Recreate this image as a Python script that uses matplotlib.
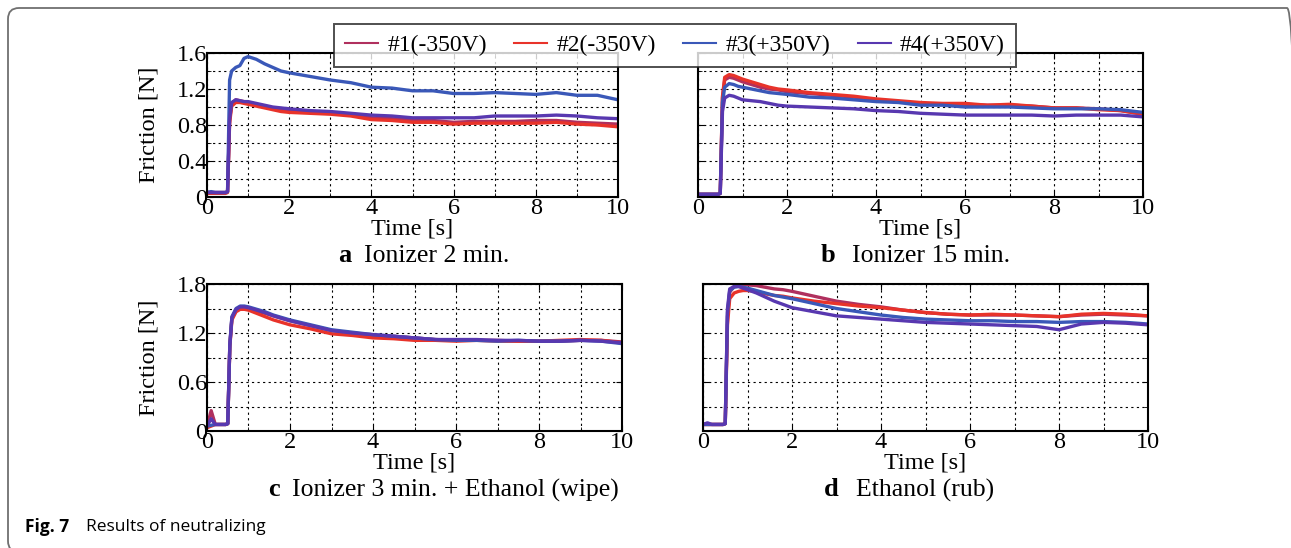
import matplotlib
matplotlib.use("Agg")
import matplotlib.pyplot as plt
from matplotlib.patches import FancyBboxPatch
from matplotlib.transforms import IdentityTransform
from matplotlib.ticker import MultipleLocator

W, H = 1291, 548

t = [0, 0.1, 0.2, 0.3, 0.45, 0.5, 0.55, 0.6, 0.7, 0.8, 0.9, 1.0, 1.2, 1.4, 1.6, 1.8,
     2.0, 2.5, 3.0, 3.5, 4.0, 4.5, 5.0, 5.5, 6.0, 6.5, 7.0, 7.5, 8.0, 8.5, 9.0, 9.5, 10.0]

labels = ["#1(-350V)", "#2(-350V)", "#3(+350V)", "#4(+350V)"]
colors = ["#b0305e", "#e8332a", "#3a58b8", "#5838b0"]

# a  Ionizer 2 min.
a1 = [0.05, 0.05, 0.05, 0.05, 0.05, 0.06, 0.85, 1.04, 1.08, 1.07, 1.06, 1.05, 1.03, 1.01, 0.99, 0.97,
      0.96, 0.94, 0.93, 0.91, 0.88, 0.87, 0.86, 0.85, 0.83, 0.84, 0.84, 0.84, 0.85, 0.85, 0.83, 0.82, 0.81]
a2 = [0.04, 0.04, 0.04, 0.04, 0.04, 0.05, 0.82, 1.01, 1.05, 1.05, 1.04, 1.03, 1.01, 0.99, 0.97, 0.95,
      0.94, 0.93, 0.92, 0.90, 0.86, 0.85, 0.83, 0.83, 0.81, 0.82, 0.82, 0.82, 0.82, 0.83, 0.81, 0.80, 0.78]
a3 = [0.05, 0.06, 0.05, 0.05, 0.05, 0.06, 1.30, 1.40, 1.44, 1.46, 1.54, 1.56, 1.53, 1.48, 1.44, 1.40,
      1.38, 1.34, 1.30, 1.27, 1.22, 1.21, 1.18, 1.18, 1.15, 1.15, 1.16, 1.15, 1.14, 1.16, 1.13, 1.13, 1.08]
a4 = [0.05, 0.05, 0.05, 0.05, 0.05, 0.06, 0.86, 1.05, 1.08, 1.07, 1.06, 1.06, 1.04, 1.02, 1.00, 0.99,
      0.98, 0.96, 0.95, 0.93, 0.91, 0.90, 0.88, 0.88, 0.88, 0.88, 0.90, 0.90, 0.90, 0.91, 0.90, 0.88, 0.87]

# b  Ionizer 15 min.
b1 = [0.03, 0.03, 0.03, 0.03, 0.03, 0.04, 1.10, 1.30, 1.33, 1.32, 1.30, 1.28, 1.25, 1.22, 1.20, 1.19,
      1.17, 1.15, 1.13, 1.11, 1.08, 1.06, 1.04, 1.03, 1.03, 1.02, 1.02, 1.01, 0.99, 0.99, 0.98, 0.96, 0.92]
b2 = [0.03, 0.03, 0.03, 0.03, 0.03, 0.04, 1.12, 1.33, 1.36, 1.35, 1.33, 1.31, 1.28, 1.25, 1.22, 1.20,
      1.19, 1.16, 1.14, 1.12, 1.09, 1.07, 1.05, 1.04, 1.04, 1.02, 1.03, 1.01, 0.99, 0.99, 0.97, 0.96, 0.92]
b3 = [0.03, 0.03, 0.03, 0.03, 0.03, 0.04, 1.05, 1.22, 1.26, 1.25, 1.23, 1.22, 1.20, 1.18, 1.16, 1.15,
      1.14, 1.11, 1.10, 1.08, 1.06, 1.05, 1.02, 1.02, 1.00, 1.00, 1.00, 0.99, 0.98, 0.98, 0.98, 0.97, 0.94]
b4 = [0.03, 0.03, 0.03, 0.03, 0.03, 0.04, 0.95, 1.10, 1.13, 1.12, 1.10, 1.08, 1.07, 1.06, 1.04, 1.02,
      1.01, 1.00, 0.99, 0.98, 0.96, 0.95, 0.93, 0.92, 0.91, 0.91, 0.91, 0.91, 0.90, 0.91, 0.91, 0.91, 0.89]

# c  Ionizer 3 min. + Ethanol (wipe)
c1 = [0.05, 0.25, 0.08, 0.08, 0.08, 0.09, 1.05, 1.38, 1.48, 1.51, 1.51, 1.50, 1.47, 1.44, 1.41, 1.38,
      1.35, 1.29, 1.23, 1.20, 1.17, 1.16, 1.14, 1.12, 1.11, 1.11, 1.11, 1.10, 1.10, 1.10, 1.11, 1.11, 1.09]
c2 = [0.04, 0.06, 0.08, 0.08, 0.08, 0.09, 1.03, 1.36, 1.46, 1.49, 1.49, 1.48, 1.44, 1.40, 1.36, 1.33,
      1.30, 1.25, 1.19, 1.17, 1.14, 1.13, 1.11, 1.11, 1.10, 1.11, 1.10, 1.10, 1.10, 1.11, 1.12, 1.11, 1.08]
c3 = [0.06, 0.07, 0.08, 0.08, 0.08, 0.09, 1.06, 1.40, 1.50, 1.53, 1.53, 1.52, 1.49, 1.46, 1.42, 1.39,
      1.36, 1.30, 1.24, 1.21, 1.18, 1.16, 1.14, 1.12, 1.11, 1.11, 1.10, 1.11, 1.10, 1.10, 1.11, 1.10, 1.07]
c4 = [0.06, 0.15, 0.08, 0.08, 0.08, 0.09, 1.05, 1.39, 1.49, 1.52, 1.52, 1.51, 1.48, 1.45, 1.41, 1.38,
      1.35, 1.29, 1.23, 1.20, 1.18, 1.16, 1.14, 1.12, 1.12, 1.12, 1.11, 1.11, 1.10, 1.10, 1.11, 1.10, 1.08]

# d  Ethanol (rub)
d1 = [0.08, 0.08, 0.08, 0.08, 0.08, 0.09, 1.40, 1.70, 1.77, 1.79, 1.79, 1.79, 1.78, 1.76, 1.74, 1.73,
      1.71, 1.65, 1.59, 1.55, 1.52, 1.48, 1.45, 1.43, 1.42, 1.42, 1.42, 1.41, 1.40, 1.42, 1.43, 1.42, 1.41]
d2 = [0.08, 0.08, 0.08, 0.08, 0.08, 0.09, 1.30, 1.62, 1.69, 1.71, 1.72, 1.72, 1.71, 1.68, 1.66, 1.65,
      1.63, 1.59, 1.56, 1.53, 1.51, 1.48, 1.45, 1.43, 1.42, 1.43, 1.42, 1.41, 1.40, 1.43, 1.44, 1.43, 1.41]
d3 = [0.08, 0.08, 0.08, 0.08, 0.08, 0.09, 1.45, 1.72, 1.76, 1.77, 1.76, 1.75, 1.72, 1.69, 1.66, 1.64,
      1.62, 1.56, 1.50, 1.46, 1.42, 1.39, 1.37, 1.36, 1.35, 1.35, 1.34, 1.34, 1.33, 1.34, 1.34, 1.33, 1.31]
d4 = [0.08, 0.10, 0.08, 0.08, 0.08, 0.09, 1.50, 1.74, 1.77, 1.77, 1.75, 1.73, 1.69, 1.64, 1.59, 1.55,
      1.51, 1.46, 1.41, 1.39, 1.37, 1.35, 1.33, 1.32, 1.31, 1.30, 1.29, 1.28, 1.24, 1.31, 1.33, 1.32, 1.30]

plt.rcParams["font.family"] = ["Liberation Serif", "DejaVu Serif"]

fig = plt.figure(figsize=(W / 100, H / 100), dpi=100)


def add_ax(left, right, top, bottom):
    return fig.add_axes([left / W, 1 - bottom / H, (right - left) / W, (bottom - top) / H])


def style_ax(ax, ymax, ystep, show_y):
    ax.set_xlim(0, 10)
    ax.set_ylim(0, ymax)
    ax.xaxis.set_major_locator(MultipleLocator(2))
    ax.xaxis.set_minor_locator(MultipleLocator(1))
    ax.yaxis.set_major_locator(MultipleLocator(2 * ystep))
    ax.yaxis.set_minor_locator(MultipleLocator(ystep))
    ax.yaxis.set_major_formatter(plt.FuncFormatter(lambda v, p: "0" if v == 0 else f"{v:.1f}"))
    ax.grid(True, which="both", color="black", linestyle=(0, (2, 3)), linewidth=0.8)
    ax.tick_params(which="both", direction="in", top=True, right=True, labelsize=17.5, pad=1)
    ax.tick_params(axis="y", pad=0)
    ax.tick_params(which="major", length=4)
    ax.tick_params(which="minor", length=3)
    for s in ax.spines.values():
        s.set_linewidth(1.5)
    ax.set_xlabel("Time [s]", fontsize=17.5, labelpad=-1)
    if show_y:
        ax.set_ylabel("Friction [N]", fontsize=17.5)
        ax.yaxis.set_label_coords(-0.115, 0.5)
    else:
        ax.tick_params(which="both", labelleft=False)


panels = [
    (add_ax(207, 618, 53, 197), [a1, a2, a3, a4], 1.6, 0.2, True),
    (add_ax(698, 1143, 53, 197), [b1, b2, b3, b4], 1.6, 0.2, False),
    (add_ax(207, 622, 284, 431), [c1, c2, c3, c4], 1.8, 0.3, True),
    (add_ax(703, 1148, 284, 431), [d1, d2, d3, d4], 1.8, 0.3, False),
]

for ax, series, ymax, ystep, show_y in panels:
    for ys, col, lab in zip(series, colors, labels):
        ax.plot(t, ys, color=col, linewidth=2.4, label=lab)
    style_ax(ax, ymax, ystep, show_y)

handles, labs = panels[0][0].get_legend_handles_labels()
leg = fig.legend(handles, labs, loc="center", bbox_to_anchor=(675 / W, 1 - 45.5 / H), ncol=4,
                 fontsize=17, frameon=True, fancybox=False, handlelength=1.4, columnspacing=1.15,
                 handletextpad=0.4, borderpad=0.45, borderaxespad=0, edgecolor="#222222")
leg.get_frame().set_linewidth(1.4)
for h in leg.get_lines():
    h.set_linewidth(1.5)

# panel captions: bold letter + text
captions = [(338, 364, 256, "a", "Ionizer 2 min."),
            (821, 852, 256, "b", "Ionizer 15 min."),
            (268, 292, 490, "c", "Ionizer 3 min. + Ethanol (wipe)"),
            (824, 856, 490, "d", "Ethanol (rub)")]
for xl, xt, yc, letter, txt in captions:
    fig.text(xl / W, 1 - yc / H, letter, fontsize=19, fontweight="bold", va="center", ha="left")
    fig.text(xt / W, 1 - yc / H, txt, fontsize=18.5, va="center", ha="left")

# figure caption
fig.text(25 / W, 1 - 527 / H, "Fig. 7", fontsize=12.5, fontweight="bold",
         family=["Open Sans", "DejaVu Sans"], va="center", ha="left")
fig.text(86 / W, 1 - 527 / H, "Results of neutralizing", fontsize=12.5,
         family=["Open Sans", "DejaVu Sans"], va="center", ha="left")

# rounded frame around the figure (right and bottom sides fall outside the picture)
frame = FancyBboxPatch((8, -4), 1290, 544, boxstyle="round,pad=0,rounding_size=11",
                       transform=IdentityTransform(), facecolor="none", edgecolor="#707070",
                       linewidth=1.3)
fig.add_artist(frame)

fig.savefig("out.png", dpi=100)
